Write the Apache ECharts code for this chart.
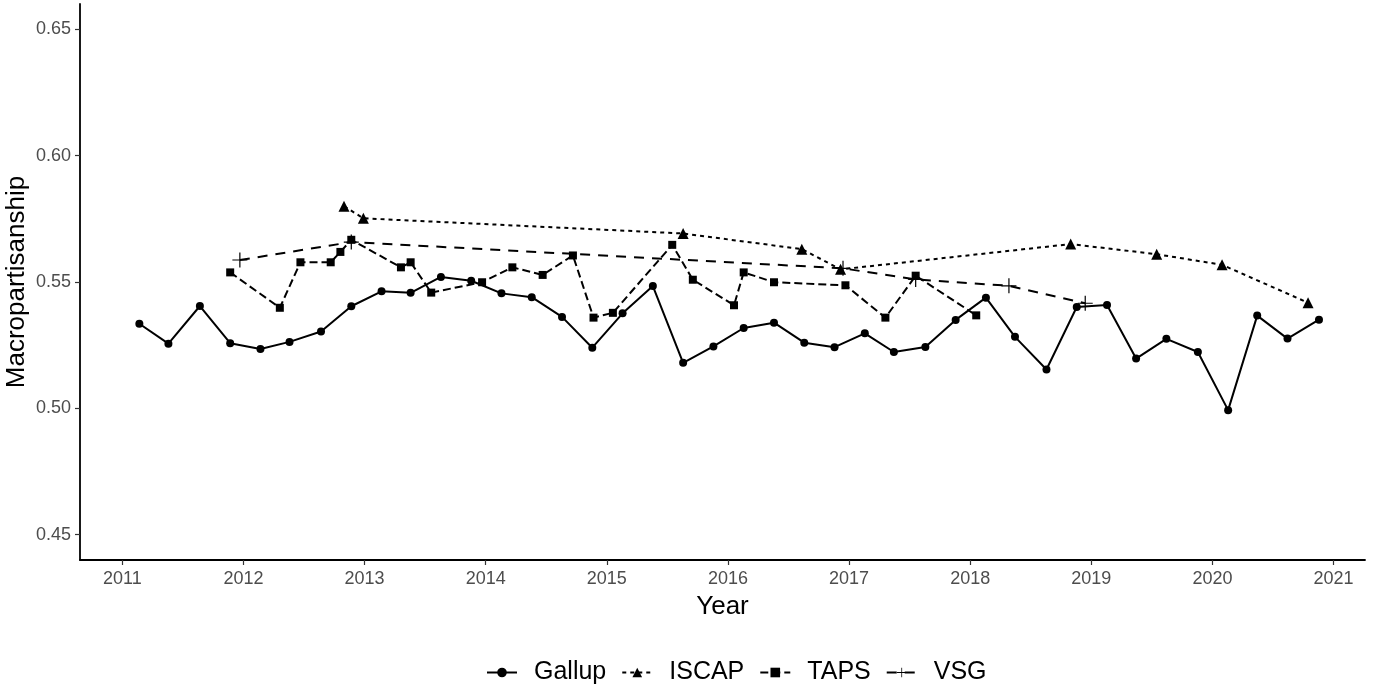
<!DOCTYPE html>
<html><head><meta charset="utf-8">
<script src="https://cdn.jsdelivr.net/npm/echarts@6/dist/echarts.min.js"></script>
<style>html,body{margin:0;padding:0;background:#fff}#c{width:1381px;height:692px}</style>
</head><body><div id="c"></div>
<script>
const xTicks = [2011,2012,2013,2014,2015,2016,2017,2018,2019,2020,2021];
const yTicks = [0.45,0.50,0.55,0.60,0.65];

const gallupX = [2011.14,2011.38,2011.64,2011.89,2012.14,2012.38,2012.64,2012.89,2013.14,2013.38,2013.63,2013.88,2014.13,2014.38,2014.63,2014.88,2015.13,2015.38,2015.63,2015.88,2016.13,2016.38,2016.63,2016.88,2017.13,2017.37,2017.63,2017.88,2018.13,2018.37,2018.63,2018.88,2019.13,2019.37,2019.62,2019.88,2020.13,2020.37,2020.62,2020.88];
const gallupY = [0.5335,0.5256,0.5405,0.5258,0.5235,0.5263,0.5304,0.5404,0.5463,0.5457,0.5520,0.5505,0.5455,0.5440,0.5362,0.5240,0.5376,0.5484,0.5180,0.5245,0.5318,0.5339,0.5260,0.5242,0.5297,0.5223,0.5243,0.5350,0.5438,0.5283,0.5154,0.5401,0.5409,0.5197,0.5275,0.5223,0.4993,0.5367,0.5276,0.5351];

const iscapX = [2012.83,2012.99,2015.63,2016.61,2016.93,2018.83,2019.54,2020.08,2020.79];
const iscapY = [0.5800,0.5752,0.5692,0.5630,0.5550,0.5650,0.5610,0.5568,0.5418];

const tapsX = [2011.89,2012.30,2012.47,2012.72,2012.80,2012.89,2013.30,2013.38,2013.55,2013.97,2014.22,2014.47,2014.72,2014.89,2015.05,2015.54,2015.71,2016.05,2016.13,2016.38,2016.97,2017.30,2017.55,2018.05];
const tapsY = [0.5538,0.5398,0.5578,0.5578,0.5619,0.5667,0.5558,0.5578,0.5458,0.5499,0.5558,0.5528,0.5605,0.5359,0.5378,0.5647,0.5509,0.5408,0.5538,0.5499,0.5487,0.5359,0.5525,0.5368];

const vsgX = [2011.97,2012.89,2016.95,2017.55,2018.32,2018.95];
const vsgY = [0.5587,0.5658,0.5554,0.5510,0.5485,0.5416];

function zip(a,b){return a.map((v,i)=>[v,b[i]]);}

const plus = 'path://M-0.08,-1 L0.08,-1 L0.08,-0.08 L1,-0.08 L1,0.08 L0.08,0.08 L0.08,1 L-0.08,1 L-0.08,0.08 L-1,0.08 L-1,-0.08 L-0.08,-0.08 Z';
const FONT = 'Liberation Sans, Arial, sans-serif';

const chart = echarts.init(document.getElementById('c'), null, {renderer:'canvas'});
chart.setOption({
  animation:false,
  backgroundColor:'#fff',
  textStyle:{fontFamily:FONT},
  grid:{left:80,right:16,top:4,bottom:132,containLabel:false,outerBoundsMode:'none'},
  xAxis:{
    type:'value', min:2010.65, max:2021.26,
    name:'Year', nameLocation:'middle', nameGap:34, nameMoveOverlap:false,
    nameTextStyle:{fontSize:26,color:'#000',fontFamily:FONT},
    axisLine:{show:true,lineStyle:{color:'#000',width:1.8}},
    axisTick:{show:true,length:5,lineStyle:{color:'#333',width:1.2},customValues:xTicks},
    axisLabel:{color:'#4d4d4d',fontSize:18,margin:10,fontFamily:FONT,customValues:xTicks,formatter:v=>String(Math.round(v))},
    splitLine:{show:false}
  },
  yAxis:{
    type:'value', min:0.44, max:0.66,
    name:'Macropartisanship', nameLocation:'middle', nameGap:50, nameRotate:90, nameMoveOverlap:false,
    nameTextStyle:{fontSize:26,color:'#000',fontFamily:FONT},
    axisLine:{show:true,lineStyle:{color:'#000',width:1.8}},
    axisTick:{show:true,length:5,lineStyle:{color:'#333',width:1.2},customValues:yTicks},
    axisLabel:{color:'#4d4d4d',fontSize:18,margin:9,fontFamily:FONT,customValues:yTicks,formatter:v=>v.toFixed(2)},
    splitLine:{show:false}
  },
  legend:{
    bottom:2, left:481, itemWidth:30, itemHeight:12, itemGap:15,
    textStyle:{fontSize:25,color:'#000',fontFamily:FONT,padding:[0,0,0,12]},
    data:['Gallup','ISCAP','TAPS','VSG']
  },
  series:[
    {name:'Gallup',type:'line',data:zip(gallupX,gallupY),symbol:'circle',symbolSize:8,
     lineStyle:{color:'#000',width:2,type:'solid'},itemStyle:{color:'#000'}},
    {name:'ISCAP',type:'line',data:zip(iscapX,iscapY),symbol:'triangle',symbolSize:11,
     lineStyle:{color:'#000',width:2,type:[4,4]},itemStyle:{color:'#000'}},
    {name:'TAPS',type:'line',data:zip(tapsX,tapsY),symbol:'rect',symbolSize:8,
     lineStyle:{color:'#000',width:2,type:[8,4]},itemStyle:{color:'#000'}},
    {name:'VSG',type:'line',data:zip(vsgX,vsgY),symbol:plus,symbolSize:15,
     lineStyle:{color:'#000',width:2,type:[10,8]},itemStyle:{color:'#000'}}
  ]
});
</script></body></html>
